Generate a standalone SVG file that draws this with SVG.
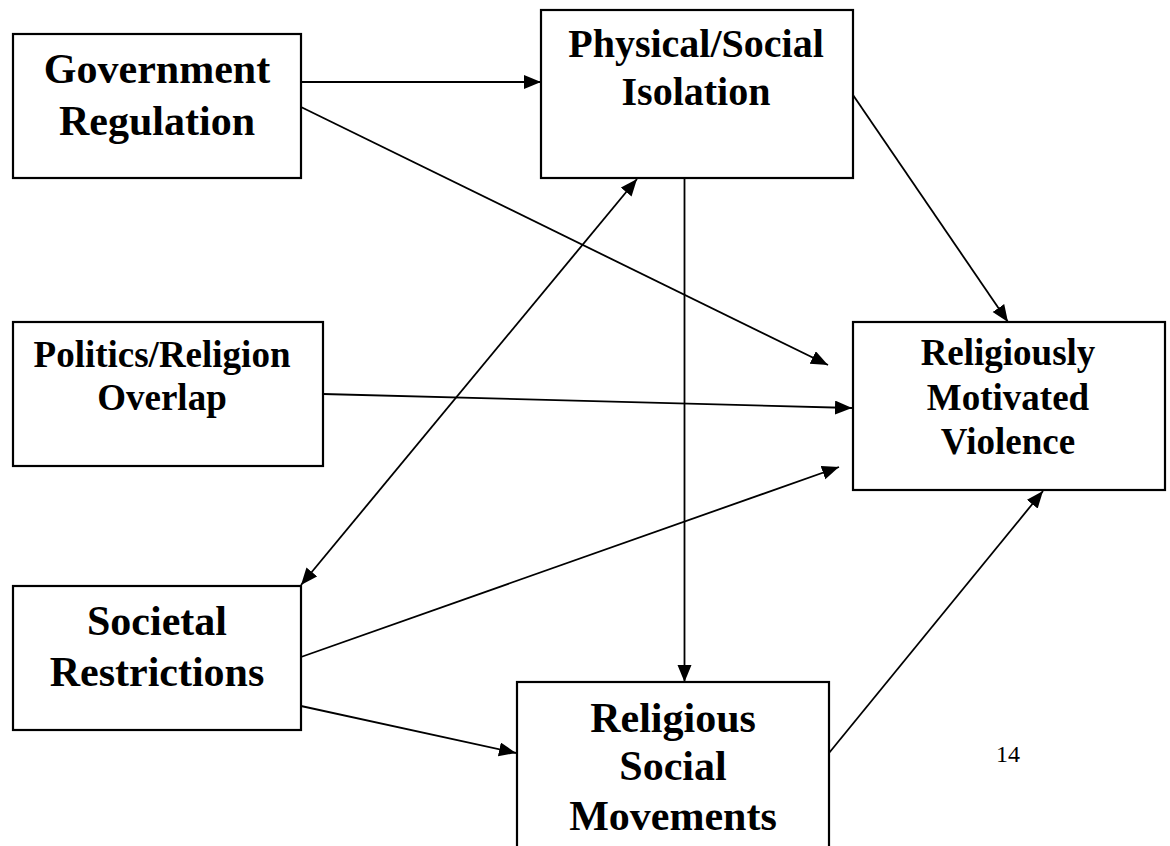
<svg xmlns="http://www.w3.org/2000/svg" width="1170" height="846" viewBox="0 0 1170 846">
<style>
.box{fill:#fff;stroke:#000;stroke-width:2.2}
.lbl{font-family:"Liberation Serif","Times New Roman",serif;font-weight:bold;text-anchor:middle;fill:#000}
.edge{stroke:#000;stroke-width:1.8;fill:none}
.pg{font-family:"Liberation Serif","Times New Roman",serif;font-size:24px;text-anchor:middle;fill:#000}
</style>
<defs>
<marker id="ah" markerUnits="userSpaceOnUse" markerWidth="18" markerHeight="15" refX="17" refY="7" orient="auto-start-reverse" viewBox="0 0 18 15">
<path d="M0,0 L17,7 L0,14 z" fill="#000"/>
</marker>
</defs>
<rect width="1170" height="846" fill="#fff"/>
<g id="connectors">
<line class="edge" x1="301" y1="82" x2="541" y2="82" marker-end="url(#ah)"/>
<line class="edge" x1="301" y1="107" x2="828" y2="365" marker-end="url(#ah)"/>
<line class="edge" x1="853" y1="95" x2="1008" y2="322" marker-end="url(#ah)"/>
<line class="edge" x1="323" y1="394" x2="852" y2="408" marker-end="url(#ah)"/>
<line class="edge" x1="301" y1="585" x2="637" y2="179" marker-start="url(#ah)" marker-end="url(#ah)"/>
<line class="edge" x1="684.5" y1="178" x2="684.5" y2="682" marker-end="url(#ah)"/>
<line class="edge" x1="301" y1="657" x2="839" y2="467" marker-end="url(#ah)"/>
<line class="edge" x1="301" y1="706" x2="516" y2="753" marker-end="url(#ah)"/>
<line class="edge" x1="829" y1="753" x2="1043" y2="491" marker-end="url(#ah)"/>
</g>
<g id="gov">
<rect class="box" x="13" y="34" width="288" height="144"/>
<text class="lbl" font-size="42" x="157" y="83">Government</text>
<text class="lbl" font-size="42" x="157" y="135">Regulation</text>
</g>
<g id="phys">
<rect class="box" x="541" y="10" width="312" height="168"/>
<text class="lbl" font-size="40" x="696" y="57">Physical/Social</text>
<text class="lbl" font-size="40" x="696" y="105">Isolation</text>
</g>
<g id="pol">
<rect class="box" x="13" y="322" width="310" height="144"/>
<text class="lbl" font-size="37" x="162" y="367">Politics/Religion</text>
<text class="lbl" font-size="37" x="162" y="410">Overlap</text>
</g>
<g id="rmv">
<rect class="box" x="853" y="322" width="312" height="168"/>
<text class="lbl" font-size="37" x="1008" y="365">Religiously</text>
<text class="lbl" font-size="37" x="1008" y="410">Motivated</text>
<text class="lbl" font-size="37" x="1008" y="454">Violence</text>
</g>
<g id="soc">
<rect class="box" x="13" y="586" width="288" height="144"/>
<text class="lbl" font-size="42" x="157" y="635">Societal</text>
<text class="lbl" font-size="42" x="157" y="686">Restrictions</text>
</g>
<g id="rsm">
<rect class="box" x="517" y="682" width="312" height="200"/>
<text class="lbl" font-size="42" x="673" y="732">Religious</text>
<text class="lbl" font-size="42" x="673" y="780">Social</text>
<text class="lbl" font-size="42" x="673" y="830">Movements</text>
</g>
<text class="pg" x="1008" y="762">14</text>
</svg>
